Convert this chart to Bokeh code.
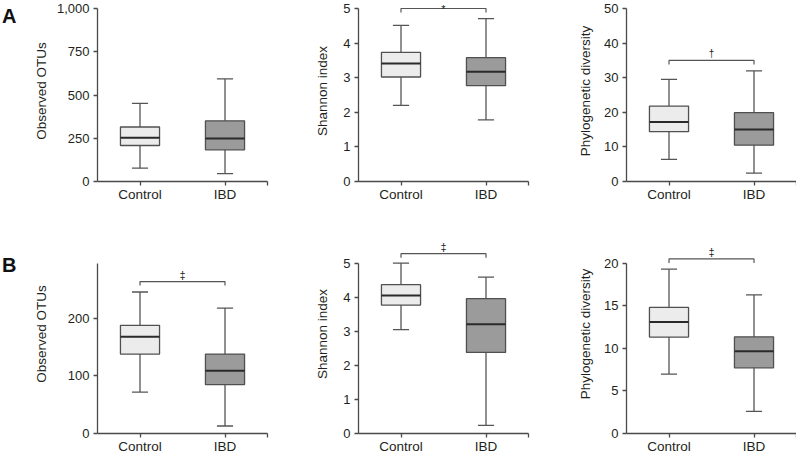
from bokeh.plotting import figure
from bokeh.models import Range1d, FixedTicker, NumeralTickFormatter, Label, ColumnDataSource
from bokeh.layouts import row, column
from bokeh.embed import file_html
from bokeh.resources import INLINE
from bokeh.core.properties import value

groups = ["Control", "IBD"]
group_x = [1, 2]

# five-number summaries: lower whisker, Q1, median, Q3, upper whisker
a_otus_control = [77, 208, 253, 315, 452]
a_otus_ibd = [46, 183, 249, 351, 593]
a_shannon_control = [2.20, 3.02, 3.41, 3.73, 4.51]
a_shannon_ibd = [1.78, 2.77, 3.17, 3.58, 4.71]
a_pd_control = [6.4, 14.4, 17.2, 21.8, 29.5]
a_pd_ibd = [2.4, 10.5, 15.0, 19.9, 32.0]

b_otus_control = [72, 138, 168, 188, 246]
b_otus_ibd = [13, 85, 109, 138, 218]
b_shannon_control = [3.05, 3.77, 4.05, 4.37, 5.0]
b_shannon_ibd = [0.24, 2.38, 3.21, 3.96, 4.59]
b_pd_control = [6.98, 11.32, 13.10, 14.81, 19.3]
b_pd_ibd = [2.60, 7.71, 9.65, 11.36, 16.28]

panel_letters = ["A", "B"]
y_labels = ["Observed OTUs", "Shannon index", "Phylogenetic diversity"]
a_otus_ticks = [0, 250, 500, 750, 1000]
a_shannon_ticks = [0, 1, 2, 3, 4, 5]
a_pd_ticks = [0, 10, 20, 30, 40, 50]
b_otus_ticks = [0, 100, 200]
b_otus_axis_top = 296
b_shannon_ticks = [0, 1, 2, 3, 4, 5]
b_pd_ticks = [0, 5, 10, 15, 20]

# significance brackets (symbol, bracket height)
a_shannon_sig = ("*", 5.0)
a_pd_sig = ("\u2020", 35.0)
b_otus_sig = ("\u2021", 264)
b_shannon_sig = ("\u2021", 5.28)
b_pd_sig = ("\u2021", 20.5)

FONT = "Liberation Sans"
AX = "#4a4a4a"
TXT = "#231f20"
FILLS = ["#ececec", "#9b9b9b"]


def letter_fig(letter, height, baseline):
    p = figure(width=20, height=height, output_backend="svg", toolbar_location=None, tools="",
               x_range=Range1d(0, 20), y_range=Range1d(height, 0),
               x_axis_type=None, y_axis_type=None, min_border=0)
    p.outline_line_color = None
    p.grid.visible = False
    p.text(x=[1.5], y=[baseline], text=[letter], text_font=value(FONT), text_font_size="20px",
           text_font_style="bold", text_baseline="alphabetic", text_align="left",
           text_color="#111111")
    return p


def panel(ctrl, ibd, ylabel, ticks, axis_top, width, left, right, height, topb, btm,
          span_px, lab_standoff, sig=None, sig_style=None, fmt=None):
    frame_h = height - topb - btm
    y_end = axis_top * frame_h / span_px
    p = figure(width=width, height=height, output_backend="svg", toolbar_location=None,
               tools="", x_range=Range1d(0.5, 2.5), y_range=Range1d(0, y_end),
               min_border_left=left, min_border_right=right,
               min_border_top=topb, min_border_bottom=btm)
    p.outline_line_color = None
    p.grid.visible = False
    p.background_fill_color = "white"

    bw, cw = 0.46, 0.19
    src = ColumnDataSource(dict(
        x=group_x,
        lo=[ctrl[0], ibd[0]], q1=[ctrl[1], ibd[1]], med=[ctrl[2], ibd[2]],
        q3=[ctrl[3], ibd[3]], hi=[ctrl[4], ibd[4]],
        bl=[x - bw / 2 for x in group_x], br=[x + bw / 2 for x in group_x],
        cl=[x - cw / 2 for x in group_x], cr=[x + cw / 2 for x in group_x],
        fill=FILLS,
    ))
    wk = dict(source=src, line_color="#555555", line_width=1.3)
    p.segment(x0="x", y0="lo", x1="x", y1="hi", **wk)
    p.segment(x0="cl", y0="lo", x1="cr", y1="lo", **wk)
    p.segment(x0="cl", y0="hi", x1="cr", y1="hi", **wk)
    p.vbar(x="x", width=bw, bottom="q1", top="q3", source=src, fill_color="fill",
           line_color="#505050", line_width=1.3)
    p.segment(x0="bl", y0="med", x1="br", y1="med", source=src, line_color="#2a2a2a", line_width=2)

    if sig is not None:
        sym, yb = sig
        drop = 4 * axis_top / span_px
        p.multi_line(xs=[[1, 1, 2, 2]], ys=[[yb - drop, yb, yb, yb - drop]],
                     line_color="#555555", line_width=1.2)
        size, base, dy = sig_style
        p.add_layout(Label(x=1.5, y=yb, text=sym, text_align="center", text_baseline=base,
                           y_offset=dy, text_font=FONT, text_font_size=size, text_color=TXT))

    for ax in (p.xaxis[0], p.yaxis[0]):
        ax.axis_line_color = AX
        ax.axis_line_width = 1.3
        ax.major_tick_line_color = AX
        ax.major_tick_line_width = 1.3
        ax.major_tick_in = 0
        ax.major_tick_out = 4
        ax.minor_tick_line_color = None
        ax.major_label_text_font = FONT
        ax.major_label_text_color = TXT

    xa = p.xaxis[0]
    xa.ticker = FixedTicker(ticks=[1, 2, 2.5])
    xa.major_label_overrides = {1: groups[0], 2: groups[1], 2.5: ""}
    xa.bounds = (0.5, 2.5)
    xa.major_label_text_font_size = "13.5px"
    xa.major_label_standoff = 1

    ya = p.yaxis[0]
    ya.ticker = FixedTicker(ticks=ticks)
    ya.bounds = (0, axis_top)
    ya.major_label_text_font_size = "13px"
    ya.major_label_standoff = 4
    if fmt is not None:
        ya.formatter = fmt
    ya.axis_label = ylabel
    ya.axis_label_text_font = FONT
    ya.axis_label_text_font_size = "13.5px"
    ya.axis_label_text_font_style = "normal"
    ya.axis_label_text_color = TXT
    ya.axis_label_standoff = lab_standoff
    return p


# row geometry: height, top border, bottom border, pixel span of the axis
HA, TA, BA, SA = 228, 0, 47, 173
HB, TB, BB, SB = 228, 6, 21, 172
# column geometry: width, left border, right border
C1 = (280, 77, 33)
C2 = (262, 58, 34)
C3 = (234, 64, 0)

star_style = ("11px", "alphabetic", 0)
dag_style = ("10px", "bottom", 1)
ddag_style = ("11px", "bottom", 1)

pa1 = panel(a_otus_control, a_otus_ibd, y_labels[0], a_otus_ticks, a_otus_ticks[-1],
            *C1, HA, TA, BA, SA, 5, fmt=NumeralTickFormatter(format="0,0"))
pa2 = panel(a_shannon_control, a_shannon_ibd, y_labels[1], a_shannon_ticks, a_shannon_ticks[-1],
            *C2, HA, TA, BA, SA, 10, sig=a_shannon_sig, sig_style=star_style)
pa3 = panel(a_pd_control, a_pd_ibd, y_labels[2], a_pd_ticks, a_pd_ticks[-1],
            *C3, HA, TA, BA, SA, 8, sig=a_pd_sig, sig_style=dag_style)

pb1 = panel(b_otus_control, b_otus_ibd, y_labels[0], b_otus_ticks, b_otus_axis_top,
            *C1, HB, TB, BB, SB, 16, sig=b_otus_sig, sig_style=ddag_style)
pb2 = panel(b_shannon_control, b_shannon_ibd, y_labels[1], b_shannon_ticks, b_shannon_ticks[-1],
            *C2, HB, TB, BB, SB, 10, sig=b_shannon_sig, sig_style=ddag_style)
pb3 = panel(b_pd_control, b_pd_ibd, y_labels[2], b_pd_ticks, b_pd_ticks[-1],
            *C3, HB, TB, BB, SB, 8, sig=b_pd_sig, sig_style=ddag_style)

la = letter_fig(panel_letters[0], HA, 19)
lb = letter_fig(panel_letters[1], HB, 35)

layout = column(row(la, pa1, pa2, pa3), row(lb, pb1, pb2, pb3))

open("out.html", "w").write(file_html(layout, INLINE))
